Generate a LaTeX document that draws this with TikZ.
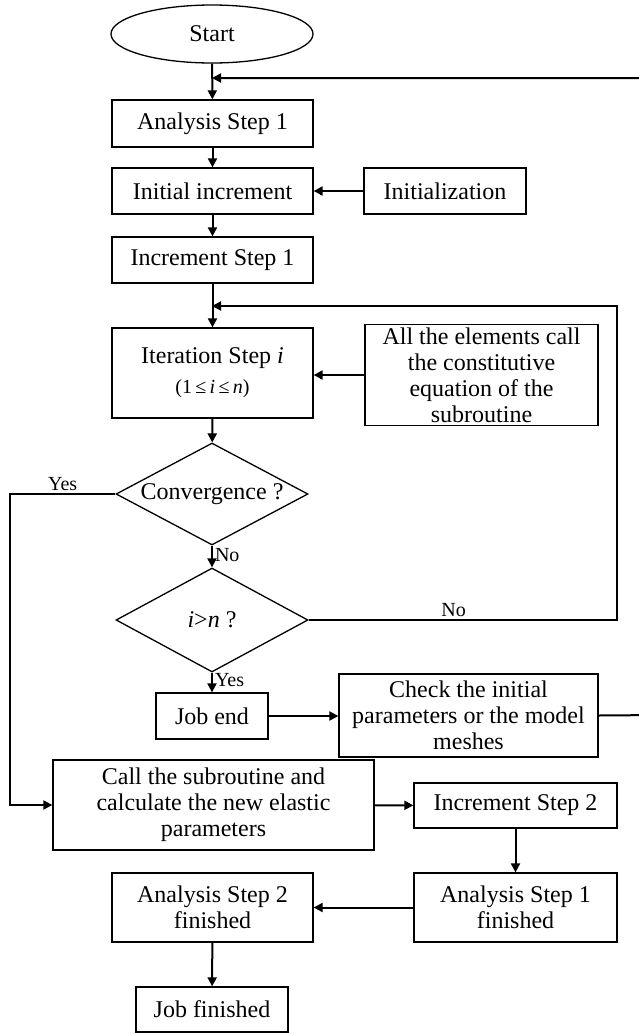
\documentclass[tikz,border=0pt]{standalone}
\usepackage{fontspec}
\setmainfont{Liberation Serif}
\usetikzlibrary{shapes.geometric,arrows.meta}
\begin{document}
\begin{tikzpicture}[x=1pt,y=-1pt,
    every node/.style={font=\fontsize{24}{26}\selectfont},
    term/.style={draw,ellipse,line width=1.3pt,inner sep=0pt},
    box/.style={draw,rectangle,line width=1.3pt,inner sep=0pt,align=center},
    dec/.style={draw,diamond,line width=1.3pt,inner sep=0pt},
    tag/.style={font=\fontsize{20}{22}\selectfont,inner sep=2pt},
    >={Triangle[length=9pt,width=9pt]}]
  \useasboundingbox (0,0) rectangle (638,1034);
  \draw
    (212,34) node[term,minimum width=202,minimum height=58] (start){Start}
    (212.5,123.5) node[box,minimum width=201,minimum height=47] (as1){Analysis Step 1}
    (212.5,191) node[box,minimum width=201,minimum height=46] (initinc){Initial increment}
    (445,191) node[box,minimum width=162,minimum height=46] (init){Initialization}
    (212.5,373) node[box,minimum width=201,minimum height=90] (iter){Iteration Step \textit{i}\\[4pt]
      {\fontsize{20}{22}\selectfont(1\,≤\,\textit{i}\,≤\,\textit{n})}}
    (212.5,260) node[box,minimum width=201,minimum height=46] (inc1){Increment Step 1}
    (481.5,375) node[box,minimum width=233,minimum height=101] (elem){All the elements call\\
      the constitutive\\equation of the\\subroutine}
    (212,494) node[dec,minimum width=192,minimum height=102,label=center:{Convergence ?}] (conv){}
    (212,620) node[dec,minimum width=192,minimum height=104,label=center:{\textit{i}>\textit{n} ?}] (ign){}
    (212,716) node[box,minimum width=112,minimum height=46] (jobend){Job end}
    (468.5,715.5) node[box,minimum width=259,minimum height=83] (check){Check the initial\\
      parameters or the model\\meshes}
    (213.5,805) node[box,minimum width=321,minimum height=90] (call){Call the subroutine and\\
      calculate the new elastic\\parameters}
    (515.5,805.5) node[box,minimum width=203,minimum height=45] (inc2){Increment Step 2}
    (515.5,907.5) node[box,minimum width=203,minimum height=69] (as1f){Analysis Step 1\\finished}
    (212.5,907.5) node[box,minimum width=201,minimum height=69] (as2f){Analysis Step 2\\finished}
    (212,1009.5) node[box,minimum width=152,minimum height=45] (jobfin){Job finished};
  \coordinate (top) at (212,78);
  \coordinate (topr) at (660,715);
  \coordinate (loop) at (212,306);
  \coordinate (loopr) at (617,620);
  \coordinate (yesl) at (10,494);
  \begin{scope}[->,line width=2pt]
    \draw (start) -- (as1);
    \draw (as1) -- (initinc);
    \draw (init) -- (initinc);
    \draw (initinc) -- (inc1);
    \draw (inc1) -- (iter);
    \draw (elem.west) -- (elem.west -| iter.east);
    \draw (iter) -- (conv);
    \draw (conv) -- node[tag,right,pos=0.45]{No} (ign);
    \draw (ign) -- node[tag,right,pos=0.4]{Yes} (jobend);
    \draw (jobend.east) -- (jobend.east -| check.west);
    \draw (conv.west) -- node[tag,above]{Yes} (yesl) |- (call);
    \draw (ign.east) -- node[tag,above,pos=0.47]{No} (loopr) |- (loop);
    \draw (check.east) -- (topr) |- (top);
    \draw (call) -- (inc2);
    \draw (inc2) -- (as1f);
    \draw (as1f) -- (as2f);
    \draw (as2f) -- (jobfin);
  \end{scope}
\end{tikzpicture}
\end{document}
